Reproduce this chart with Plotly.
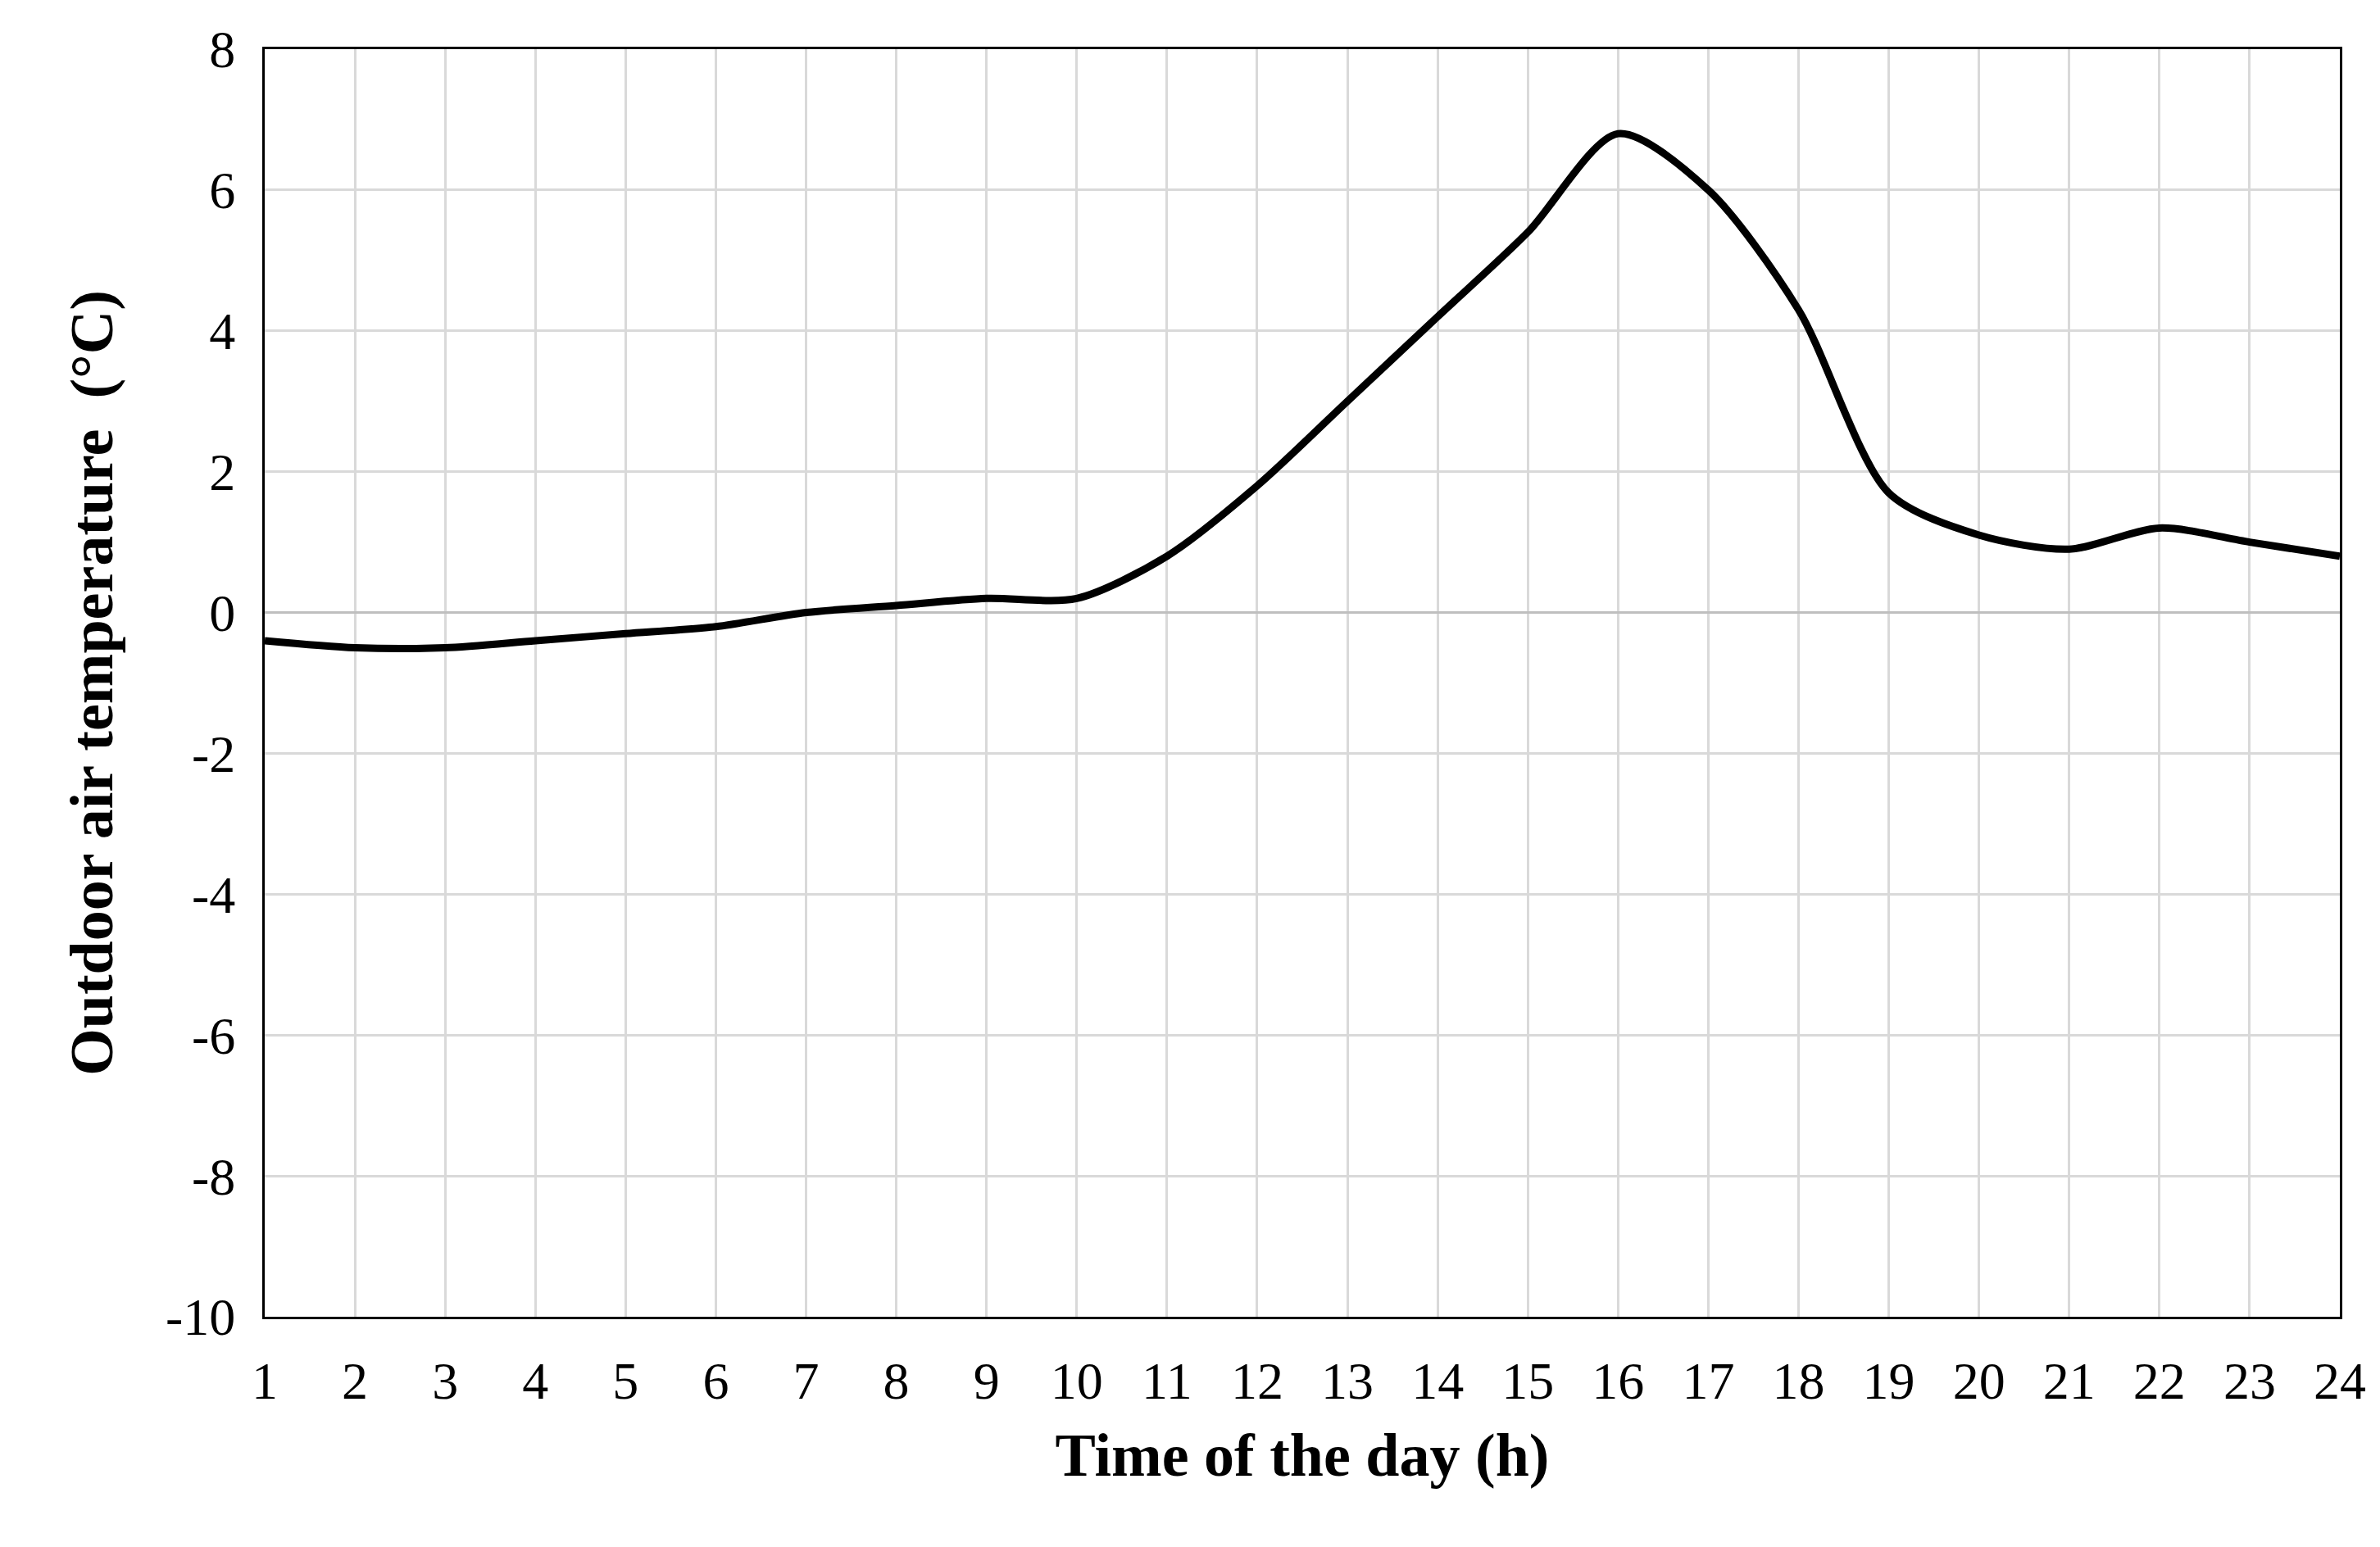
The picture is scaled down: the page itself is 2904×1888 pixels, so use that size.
import plotly.graph_objects as go

hours = list(range(1, 25))
temps = [-0.4, -0.5, -0.5, -0.4, -0.3, -0.2, 0.0, 0.1, 0.2, 0.2, 0.8, 1.8,
         3.0, 4.2, 5.4, 6.8, 6.0, 4.3, 1.7, 1.1, 0.9, 1.2, 1.0, 0.8]
y_ticks = [-10, -8, -6, -4, -2, 0, 2, 4, 6, 8]
y_ticklabels = ["-10", "-8", "-6", "-4", "-2", "0", "2", "4", "6", "8"]
x_title = "Time of the day (h)"
y_title = "Outdoor air temperature  (°C)"

fig = go.Figure(go.Scatter(x=hours, y=temps, mode="lines",
                           line=dict(color="black", width=9, shape="spline", smoothing=0.8)))
font = "Liberation Serif, DejaVu Serif, serif"
fig.update_layout(
    width=2904, height=1888, plot_bgcolor="white", paper_bgcolor="white",
    margin=dict(l=315, r=57, t=52, b=289), showlegend=False,
    font=dict(family=font, size=62, color="black"),
)
fig.update_xaxes(range=[1, 24], tickmode="linear", dtick=1, showgrid=True,
                 gridcolor="#d9d9d9", gridwidth=3, showline=True, linecolor="black",
                 linewidth=3, mirror=True, ticks="", zeroline=False,
                 tickfont=dict(size=64),
                 title=dict(text="<b>" + x_title + "</b>", standoff=30), ticklabelstandoff=20)
fig.update_yaxes(range=[-10, 8], tickmode="array", tickvals=y_ticks, ticktext=y_ticklabels,
                 showgrid=True, tickfont=dict(size=64),
                 gridcolor="#d9d9d9", gridwidth=3, showline=True, linecolor="black",
                 linewidth=3, mirror=True, ticks="", zeroline=True, zerolinecolor="#bfbfbf",
                 zerolinewidth=3, title=dict(text="<b>" + y_title + "</b>", standoff=40),
                 ticklabelstandoff=20)
fig.write_html("out.html")
